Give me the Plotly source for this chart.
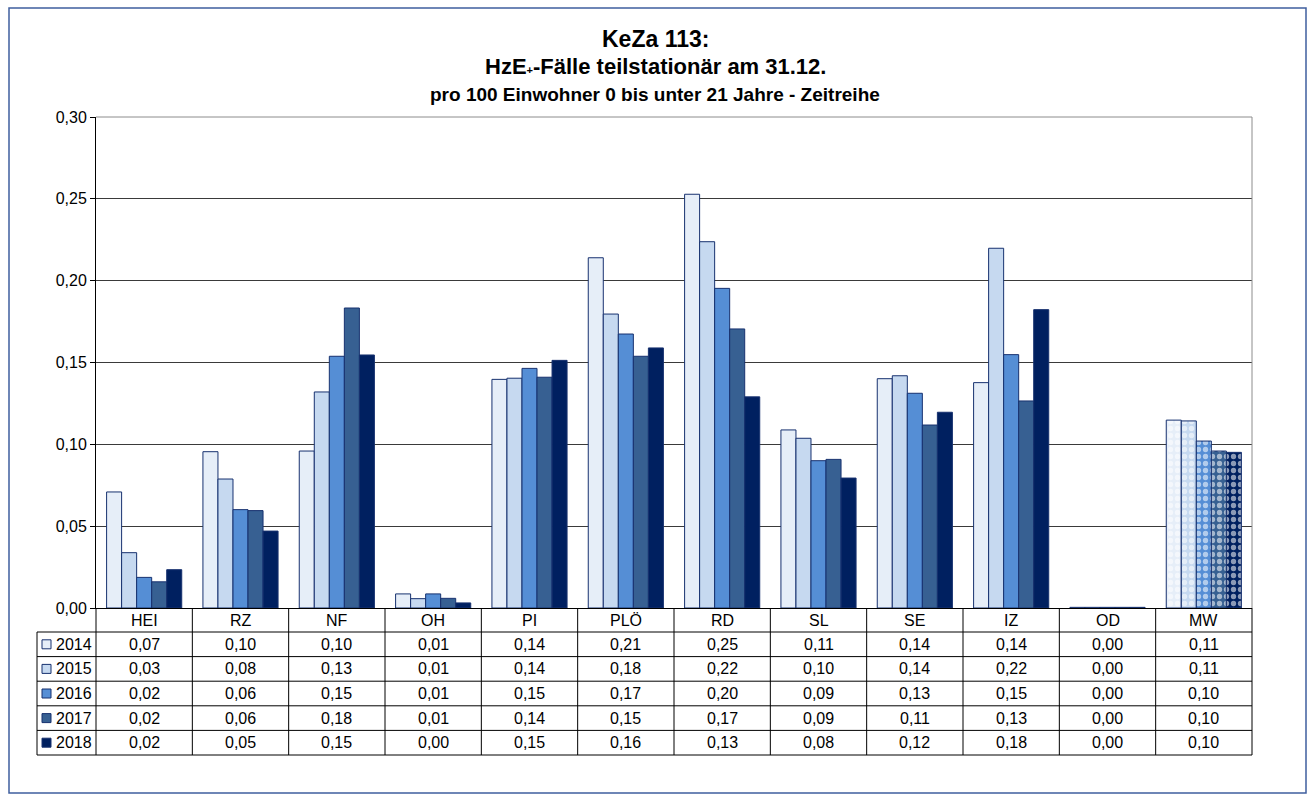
import plotly.graph_objects as go

# ---- data ----
categories = ["HEI", "RZ", "NF", "OH", "PI", "PLÖ", "RD", "SL", "SE", "IZ", "OD", "MW"]
years = ["2014", "2015", "2016", "2017", "2018"]

v2014 = [0.0709, 0.0955, 0.0959, 0.0086, 0.1397, 0.2140, 0.2528, 0.1088, 0.1401, 0.1377, 0.0004, 0.1148]
v2015 = [0.0338, 0.0788, 0.1320, 0.0057, 0.1404, 0.1796, 0.2238, 0.1037, 0.1419, 0.2198, 0.0004, 0.1143]
v2016 = [0.0187, 0.0601, 0.1538, 0.0086, 0.1464, 0.1674, 0.1953, 0.0900, 0.1312, 0.1548, 0.0004, 0.1020]
v2017 = [0.0160, 0.0595, 0.1833, 0.0059, 0.1410, 0.1538, 0.1705, 0.0908, 0.1118, 0.1265, 0.0004, 0.0959]
v2018 = [0.0234, 0.0470, 0.1546, 0.0031, 0.1513, 0.1589, 0.1290, 0.0794, 0.1196, 0.1823, 0.0004, 0.0951]
series = [v2014, v2015, v2016, v2017, v2018]

y_ticks = [0.00, 0.05, 0.10, 0.15, 0.20, 0.25, 0.30]

colors = ["#E6EEF8", "#C6D9F0", "#558ED5", "#376092", "#002060"]
edge = "#17316f"
FONT = "Arial, Liberation Sans, sans-serif"

# ---- page geometry (pixels) ----
W, H = 1311, 801
L, R, T, B = 96, 1252, 117, 608


def px(x):
    return (x - L) / (R - L)


def py(y):
    return (B - y) / (B - T)


fig = go.Figure()
n_cat = len(categories)
for yr, vals, col in zip(years, series, colors):
    fig.add_trace(go.Bar(
        name=yr, x=categories, y=vals,
        marker=dict(
            color=col,
            line=dict(color=edge, width=1),
            pattern=dict(
                shape=["." if c == "MW" else "" for c in categories],
                fillmode="overlay", fgcolor="#ffffff", fgopacity=0.55,
                size=7, solidity=0.45,
            ),
        ),
        hoverinfo="x+y+name",
    ))

shapes = []
annotations = []

# title block
title_lines = [
    ("<b>KeZa 113:</b>", 23, 39),
    ("<b>HzE<span style='font-size:11px'>+</span>-Fälle teilstationär am 31.12.</b>", 22, 67),
    ("<b>pro 100 Einwohner 0 bis unter 21 Jahre - Zeitreihe</b>", 19, 95),
]
for txt, size, yc in title_lines:
    annotations.append(dict(
        text=txt, xref="paper", yref="paper", x=px(655), y=py(yc),
        xanchor="center", yanchor="middle", showarrow=False,
        font=dict(family=FONT, size=size, color="black"),
    ))

# outer frame
shapes.append(dict(type="rect", xref="paper", yref="paper",
                   x0=px(9), x1=px(1306), y0=py(793), y1=py(8),
                   line=dict(color="#3f5f9f", width=1.5), layer="below"))

# top and right border of the plot area
shapes.append(dict(type="line", xref="paper", yref="paper",
                   x0=0, x1=1, y0=1, y1=1, line=dict(color="#8c8c8c", width=1)))
shapes.append(dict(type="line", xref="paper", yref="paper",
                   x0=1, x1=1, y0=0, y1=1, line=dict(color="#8c8c8c", width=1)))

# ---- data table below the axis ----
col_w = (R - L) / n_cat
hdr_bottom = 632
row_h = 24.6
tbl_left = 37
tbl_bottom = hdr_bottom + row_h * len(years)
line_style = dict(color="black", width=1)

# vertical lines between columns
for k in range(n_cat + 1):
    xk = L + k * col_w
    shapes.append(dict(type="line", xref="paper", yref="paper",
                       x0=px(xk), x1=px(xk), y0=py(B), y1=py(tbl_bottom),
                       line=line_style))
shapes.append(dict(type="line", xref="paper", yref="paper",
                   x0=px(tbl_left), x1=px(tbl_left), y0=py(hdr_bottom), y1=py(tbl_bottom),
                   line=line_style))
# horizontal lines
for r in range(len(years) + 1):
    yr_px = hdr_bottom + r * row_h
    shapes.append(dict(type="line", xref="paper", yref="paper",
                       x0=px(tbl_left), x1=px(R), y0=py(yr_px), y1=py(yr_px),
                       line=line_style))

cell_font = dict(family=FONT, size=16, color="black")
# header: category names
for k, cat in enumerate(categories):
    annotations.append(dict(
        text=cat, xref="paper", yref="paper",
        x=px(L + (k + 0.5) * col_w), y=py((B + hdr_bottom) / 2),
        xanchor="center", yanchor="middle", showarrow=False, font=cell_font,
    ))

# rows: legend key + values
for r, (yr, vals, col) in enumerate(zip(years, series, colors)):
    yc = hdr_bottom + (r + 0.5) * row_h
    shapes.append(dict(type="rect", xref="paper", yref="paper",
                       x0=px(42), x1=px(51), y0=py(yc + 4.5), y1=py(yc - 4.5),
                       fillcolor=col, line=dict(color=edge, width=1)))
    annotations.append(dict(
        text=yr, xref="paper", yref="paper", x=px(54), y=py(yc),
        xanchor="left", yanchor="middle", showarrow=False, font=cell_font,
    ))
    for k, v in enumerate(vals):
        annotations.append(dict(
            text=f"{v:.2f}".replace(".", ","), xref="paper", yref="paper",
            x=px(L + (k + 0.5) * col_w), y=py(yc),
            xanchor="center", yanchor="middle", showarrow=False, font=cell_font,
        ))

fig.update_layout(
    width=W, height=H,
    margin=dict(l=L, r=W - R, t=T, b=H - B, pad=0),
    paper_bgcolor="white", plot_bgcolor="white",
    barmode="group", bargap=0.22, bargroupgap=0,
    showlegend=False,
    separators=",.",
    font=dict(family=FONT, size=16, color="black"),
    shapes=shapes, annotations=annotations,
    xaxis=dict(
        showticklabels=False, ticks="", showgrid=False,
        showline=True, linecolor="black", linewidth=1,
        range=[-0.5, n_cat - 0.5],
    ),
    yaxis=dict(
        range=[0, 0.30], tickvals=y_ticks, tickformat=".2f",
        showgrid=True, gridcolor="#3a3a3a", gridwidth=1,
        showline=True, linecolor="black", linewidth=1,
        ticks="outside", ticklen=5, tickcolor="black",
        tickfont=dict(family=FONT, size=16, color="black"),
        zeroline=False,
    ),
)

fig.write_html("out.html")
